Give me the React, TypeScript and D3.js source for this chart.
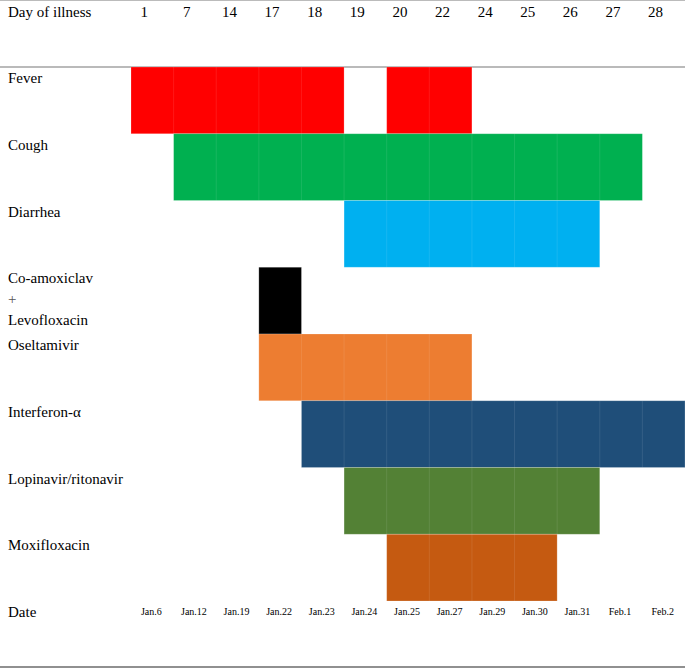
import React from 'react';
import * as d3 from 'd3';

const days = ['1', '7', '14', '17', '18', '19', '20', '22', '24', '25', '26', '27', '28'];
const dates = ['Jan.6', 'Jan.12', 'Jan.19', 'Jan.22', 'Jan.23', 'Jan.24', 'Jan.25', 'Jan.27', 'Jan.29', 'Jan.30', 'Jan.31', 'Feb.1', 'Feb.2'];
const rows = ['Fever', 'Cough', 'Diarrhea', 'Co-amoxiclav\n+\nLevofloxacin', 'Oseltamivir', 'Interferon-α', 'Lopinavir/ritonavir', 'Moxifloxacin'];
const rowColors = ['#ff0000', '#00b050', '#00b0f0', '#000000', '#ed7d31', '#1f4e79', '#538135', '#c55a11'];
// segments per row: [first day index, last day index] inclusive
const segments = [
  [[0, 4], [6, 7]],
  [[1, 11]],
  [[5, 10]],
  [[3, 3]],
  [[3, 7]],
  [[4, 12]],
  [[5, 10]],
  [[6, 9]],
];

const W = 685;
const H = 668;
const FONT = '"Liberation Serif", "Times New Roman", serif';

export default function App() {
  const x = d3.scaleBand<number>().domain(d3.range(days.length)).range([131, W]).padding(0);
  const y = d3.scaleBand<number>().domain(d3.range(rows.length)).range([67, 601]).padding(0);
  const cw = x.bandwidth();
  const rh = y.bandwidth();

  return (
    <svg width={W} height={H} style={{ position: 'absolute', left: 0, top: 0, background: '#fff' }}>
      <line x1={0} x2={W} y1={0.5} y2={0.5} stroke="#bbb" strokeWidth={1} />
      <line x1={0} x2={W} y1={67} y2={67} stroke="#777" strokeWidth={1.2} />
      <line x1={0} x2={W} y1={667} y2={667} stroke="#222" strokeWidth={1.2} />

      <text x={8} y={17} fontFamily={FONT} fontSize={15} fill="#000">Day of illness</text>
      {days.map((d, i) => (
        <text key={d} x={(x(i) as number) + cw * 0.31} y={17} textAnchor="middle"
          fontFamily={FONT} fontSize={15} fill="#000">{d}</text>
      ))}

      {segments.map((segs, r) =>
        segs.map(([a, b], k) => {
          const x0 = x(a) as number;
          const x1 = (x(b) as number) + cw;
          const y0 = y(r) as number;
          return (
            <g key={`${r}-${k}`}>
              <rect x={x0} y={y0} width={x1 - x0} height={rh} fill={rowColors[r]}
                stroke="#ffffff" strokeOpacity={0.25} strokeWidth={0.8} />
              {d3.range(a + 1, b + 1).map(c => (
                <line key={c} x1={x(c) as number} x2={x(c) as number} y1={y0} y2={y0 + rh}
                  stroke="#ffffff" strokeOpacity={0.12} strokeWidth={0.8} />
              ))}
            </g>
          );
        })
      )}

      {rows.map((name, r) => {
        const lines = name.split('\n');
        return (
          <text key={name} x={8} fontFamily={FONT} fontSize={15} fill="#000">
            {lines.map((ln, j) => (
              <tspan key={j} x={8} y={(y(r) as number) + 16 + j * 21}
                fill={ln === '+' ? '#555' : '#000'}>{ln}</tspan>
            ))}
          </text>
        );
      })}

      <text x={8} y={617} fontFamily={FONT} fontSize={15} fill="#000">Date</text>
      {dates.map((d, i) => (
        <text key={d} x={(x(i) as number) + cw / 2 - 1} y={615} textAnchor="middle"
          fontFamily={FONT} fontSize={10} fill="#000">{d}</text>
      ))}
    </svg>
  );
}
